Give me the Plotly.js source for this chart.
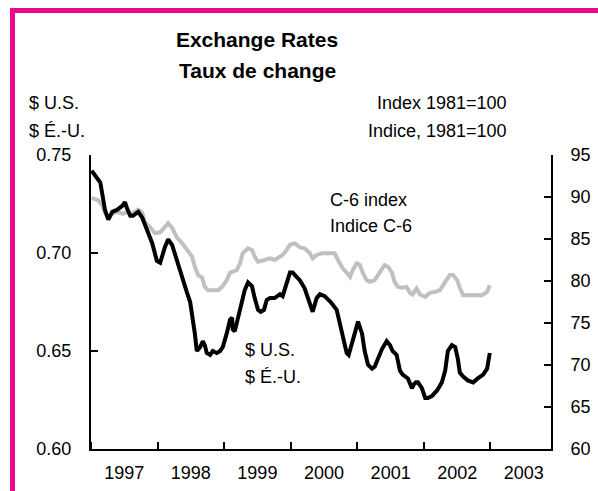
<!DOCTYPE html>
<html>
<head>
<meta charset="utf-8">
<script src="https://cdn.plot.ly/plotly-3.0.1.min.js"></script>
<style>
  html, body { margin: 0; padding: 0; background: #ffffff; }
  #wrap { position: relative; width: 598px; height: 491px; overflow: hidden; }
  #chart { position: absolute; left: 0; top: 0; width: 598px; height: 491px; }
  #frame { position: absolute; left: 10px; top: 8px; width: 700px; height: 600px;
           border-left: 5px solid #EA078C; border-top: 5px solid #EA078C; pointer-events: none; }
</style>
</head>
<body>
<div id="wrap">
  <div id="chart"></div>
  <div id="frame"></div>
</div>
<script>
// ---- Data (time in decimal years) ----
const usdTime = [1997.01,1997.14,1997.21,1997.26,1997.32,1997.39,1997.47,1997.51,1997.54,1997.59,1997.63,1997.71,1997.77,1997.84,1997.92,1997.99,
  1998.04,1998.11,1998.16,1998.22,1998.29,1998.37,1998.44,1998.49,1998.53,1998.56,1998.59,1998.64,1998.68,1998.71,1998.74,1998.79,1998.83,1998.89,1998.94,1998.98,
  1999.04,1999.09,1999.12,1999.13,1999.16,1999.21,1999.27,1999.31,1999.36,1999.42,1999.46,1999.51,1999.55,1999.60,1999.64,1999.69,1999.76,1999.84,1999.88,1999.94,1999.99,
  2000.03,2000.09,2000.14,2000.21,2000.26,2000.32,2000.33,2000.39,2000.44,2000.51,2000.60,2000.69,2000.74,2000.78,2000.84,2000.87,2000.92,2000.96,
  2001.01,2001.07,2001.11,2001.16,2001.22,2001.26,2001.31,2001.37,2001.44,2001.49,2001.53,2001.59,2001.64,2001.68,2001.76,2001.79,2001.82,2001.85,2001.88,2001.91,2001.97,
  2002.02,2002.06,2002.12,2002.20,2002.27,2002.32,2002.36,2002.42,2002.47,2002.51,2002.54,2002.59,2002.66,2002.74,2002.81,2002.89,2002.95,2002.99];
const usdValue = [0.742,0.736,0.722,0.717,0.721,0.722,0.724,0.726,0.723,0.719,0.719,0.721,0.718,0.712,0.705,0.696,
  0.695,0.703,0.707,0.704,0.696,0.688,0.680,0.675,0.667,0.659,0.650,0.652,0.655,0.653,0.649,0.648,0.650,0.649,0.650,0.652,
  0.659,0.666,0.667,0.661,0.660,0.667,0.674,0.681,0.685,0.683,0.677,0.671,0.670,0.671,0.676,0.677,0.677,0.679,0.678,0.685,0.690,
  0.690,0.688,0.686,0.682,0.677,0.671,0.670,0.677,0.679,0.678,0.675,0.671,0.664,0.657,0.649,0.648,0.654,0.660,
  0.665,0.659,0.650,0.643,0.641,0.642,0.646,0.651,0.655,0.653,0.650,0.648,0.640,0.638,0.636,0.634,0.631,0.633,0.634,0.634,0.631,
  0.626,0.626,0.627,0.630,0.634,0.640,0.650,0.653,0.652,0.646,0.639,0.637,0.635,0.634,0.636,0.638,0.641,0.649];

const c6Time = [1997.01,1997.11,1997.17,1997.21,1997.26,1997.33,1997.41,1997.48,1997.54,1997.59,1997.63,1997.71,1997.77,1997.81,1997.89,1997.96,
  1998.04,1998.11,1998.16,1998.22,1998.29,1998.37,1998.44,1998.52,1998.56,1998.61,1998.67,1998.71,1998.76,1998.83,1998.91,1998.97,
  1999.04,1999.09,1999.13,1999.19,1999.24,1999.28,1999.36,1999.42,1999.46,1999.51,1999.61,1999.69,1999.76,1999.84,1999.88,1999.94,1999.99,
  2000.06,2000.14,2000.21,2000.29,2000.33,2000.39,2000.47,2000.56,2000.66,2000.71,2000.78,2000.84,2000.89,2000.93,2000.99,
  2001.04,2001.08,2001.14,2001.19,2001.26,2001.34,2001.41,2001.46,2001.52,2001.56,2001.61,2001.67,2001.74,2001.79,2001.83,2001.89,2001.94,
  2002.02,2002.09,2002.17,2002.24,2002.32,2002.39,2002.44,2002.50,2002.54,2002.59,2002.66,2002.77,2002.87,2002.95,2002.99];
const c6Value = [89.9,89.6,89.0,88.1,87.6,88.1,88.2,88.0,88.2,87.9,88.1,88.5,88.1,87.0,86.4,85.7,
  85.8,86.4,86.9,86.3,85.2,84.5,83.7,82.9,81.7,80.7,80.4,79.3,78.9,78.9,78.9,79.3,
  80.1,81.0,81.1,81.3,82.1,83.3,83.9,83.7,82.9,82.3,82.5,82.7,82.5,82.9,83.1,83.7,84.3,
  84.5,84.0,83.9,83.3,82.7,83.1,83.3,83.3,83.3,82.5,81.5,81.0,80.5,81.3,82.1,
  81.9,81.0,80.1,79.9,80.1,81.0,81.9,81.7,81.0,79.9,79.3,79.2,79.3,78.6,78.4,79.1,78.4,
  78.1,78.6,78.7,78.9,79.9,80.7,80.7,80.1,79.2,78.3,78.3,78.3,78.3,78.7,79.5];

const xRange = [1997.0, 2003.91];
const usdRange = [0.60, 0.75];
const idxRange = [60, 95];

// decimal year -> epoch ms
function ms(y) {
  const Y = Math.floor(y);
  const a = Date.UTC(Y, 0, 1), b = Date.UTC(Y + 1, 0, 1);
  return a + (y - Y) * (b - a);
}

// plot-area geometry (pixels)
const W = 598, H = 491, L = 91, R = 551, T = 155, B = 449;
const px = x => (x - L) / (R - L);
const py = y => (B - y) / (B - T);

const FONT = 'Liberation Sans, Arial, Helvetica, sans-serif';

const traces = [
  { x: c6Time.map(ms), y: c6Value, type: 'scatter', mode: 'lines', yaxis: 'y',
    line: { color: '#C0C0C0', width: 4 }, hoverinfo: 'skip', showlegend: false },
  { x: usdTime.map(ms), y: usdValue, type: 'scatter', mode: 'lines', yaxis: 'y2',
    line: { color: '#000000', width: 4 }, hoverinfo: 'skip', showlegend: false }
];

function ann(text, x, y, xanchor, size) {
  return { text: text, xref: 'paper', yref: 'paper', x: px(x), y: py(y),
    xanchor: xanchor, yanchor: 'middle', showarrow: false,
    font: { family: FONT, size: size || 18, color: '#000' } };
}

const layout = {
  width: W, height: H,
  margin: { l: L, r: W - R, t: T, b: H - B, pad: 0 },
  paper_bgcolor: '#ffffff', plot_bgcolor: '#ffffff',
  showlegend: false,
  font: { family: FONT, size: 18, color: '#000' },
  title: { text: '<b>Exchange Rates</b>',
    x: 257 / W, xanchor: 'center', xref: 'container',
    y: 1 - 40 / H, yanchor: 'middle', yref: 'container',
    font: { family: FONT, size: 21, color: '#000' } },
  xaxis: {
    type: 'date', range: [ms(xRange[0]), ms(xRange[1])],
    tick0: '1997-01-01', dtick: 'M12', ticklabelmode: 'period', tickformat: '%Y',
    ticks: 'inside', ticklen: 7, tickwidth: 2, tickcolor: '#000',
    showline: true, linecolor: '#000', linewidth: 2, showgrid: false, zeroline: false,
    tickfont: { family: FONT, size: 18, color: '#000' }, ticklabelstandoff: 6
  },
  yaxis: {
    range: idxRange, dtick: 5, tick0: 60, side: 'right',
    ticks: 'inside', ticklen: 7, tickwidth: 2, tickcolor: '#000',
    showline: true, linecolor: '#000', linewidth: 2, showgrid: false, zeroline: false,
    tickfont: { family: FONT, size: 18, color: '#000' }, ticklabelstandoff: 14
  },
  yaxis2: {
    range: usdRange, dtick: 0.05, tick0: 0.6, tickformat: '.2f', side: 'left', overlaying: 'y',
    ticks: 'inside', ticklen: 7, tickwidth: 2, tickcolor: '#000',
    showline: true, linecolor: '#000', linewidth: 2, showgrid: false, zeroline: false,
    tickfont: { family: FONT, size: 18, color: '#000' }, ticklabelstandoff: 14
  },
  annotations: [
    ann('<b>Taux de change</b>', 257, 70, 'center', 21),
    ann('$ U.S.', 27, 103, 'left'),
    ann('$ É.-U.', 27, 131, 'left'),
    ann('Index 1981=100', 509, 103, 'right'),
    ann('Indice, 1981=100', 509, 131, 'right'),
    ann('C-6 index', 328, 200, 'left'),
    ann('Indice C-6', 328, 226, 'left'),
    ann('$ U.S.', 243, 350, 'left'),
    ann('$ É.-U.', 243, 377, 'left')
  ]
};

Plotly.newPlot('chart', traces, layout, { staticPlot: true, displayModeBar: false });
</script>
</body>
</html>
